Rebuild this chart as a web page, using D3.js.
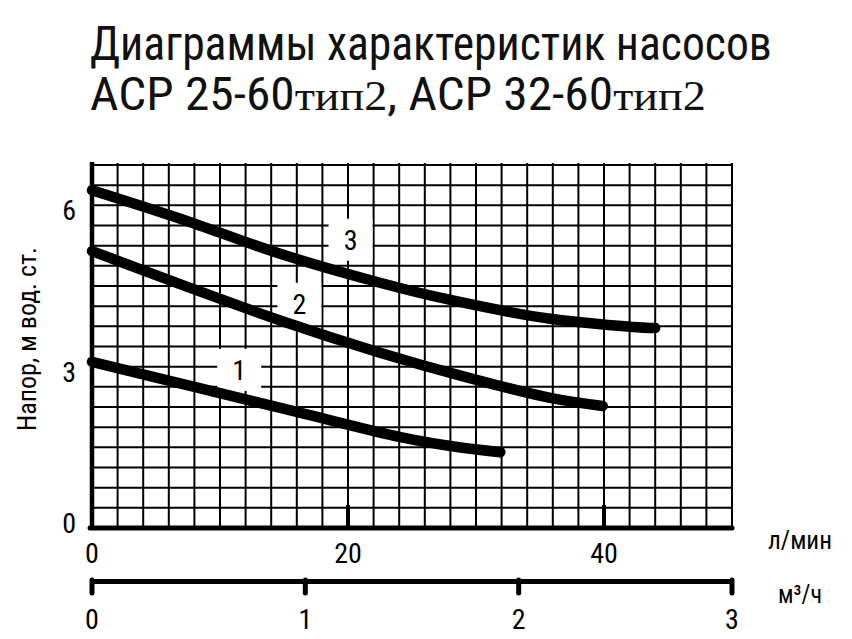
<!DOCTYPE html>
<html><head><meta charset="utf-8">
<script src="https://cdn.jsdelivr.net/npm/d3@7"></script>
<style>body{margin:0;background:#fff}svg{display:block}</style>
</head><body><svg id="c" width="852" height="639"></svg>
<script>
// ---- data ----
const flowTicks = [0, 20, 40];          // л/мин
const cubicTicks = [0, 1, 2, 3];        // м³/ч
const headTicks = [0, 3, 6];            // м вод. ст.
const curveNames = ["1", "2", "3"];
const curve1Flow = [0, 8.4, 16.3, 24.1, 28.4, 31.9];
const curve1Head = [3.09, 2.60, 2.14, 1.69, 1.51, 1.41];
const curve2Flow = [0, 7.5, 14.7, 22.5, 29.0, 35.8, 39.9];
const curve2Head = [5.15, 4.48, 3.86, 3.26, 2.82, 2.42, 2.27];
const curve3Flow = [0, 6.9, 14.7, 22.5, 28.0, 35.8, 43.6, 44.0];
const curve3Head = [6.28, 5.75, 5.10, 4.56, 4.24, 3.89, 3.72, 3.72];
const labelFlow = [11.5, 16.2, 20.2];
const labelHead = [2.94, 4.17, 5.36];
const titleLine1 = "Диаграммы характеристик насосов";
const titleParts = [["ACP 25-60", "sans"], ["тип2", "serif"], [", ACP 32-60", "sans"], ["тип2", "serif"]];
const yTitle = "Напор, м вод. ст.";
const flowUnit = "л/мин";
const cubicUnit = "м³/ч";

// ---- setup ----
const SANS = "'Liberation Sans Narrow','Arial Narrow','Roboto Condensed','DejaVu Sans Condensed','Liberation Sans',Arial,sans-serif";
const SERIF = "'Liberation Serif','Times New Roman',serif";
const svg = d3.select("#c");
const x = d3.scaleLinear().domain([0, 50]).range([92, 732]);
const xc = d3.scaleLinear().domain([0, 3]).range([92, 732]);
const y = d3.scaleLinear().domain([0, 6.75]).range([528, 165]);

function fit(sel, w) {
  const bw = sel.node().getBBox().width;
  const k = w / bw;
  const x0 = +sel.attr("x") || 0;
  sel.attr("transform", `translate(${x0},0) scale(${k},1) translate(${-x0},0)`);
}

// grid
const g = svg.append("g");
g.selectAll("line.v").data(d3.range(0, 50.01, 2)).join("line")
  .attr("x1", d => x(d)).attr("x2", d => x(d)).attr("y1", 163).attr("y2", y(0))
  .attr("stroke", "#000").attr("stroke-width", 2);
g.selectAll("line.h").data(d3.range(0.375, 6.76, 0.375)).join("line")
  .attr("x1", x(0)).attr("x2", x(50)).attr("y1", d => y(d)).attr("y2", d => y(d))
  .attr("stroke", "#000").attr("stroke-width", 2);

// label boxes
const labels = curveNames.map((n, i) => ({n, fx: labelFlow[i], hy: labelHead[i]}));
svg.selectAll("rect.lb").data(labels).join("rect")
  .attr("x", d => x(d.fx) - 22).attr("y", d => y(d.hy) - 21)
  .attr("width", 44).attr("height", 42).attr("fill", "#fff");
svg.selectAll("text.lb").data(labels).join("text")
  .attr("x", d => x(d.fx)).attr("y", d => y(d.hy) + 10)
  .attr("text-anchor", "middle").attr("font-family", SANS).attr("font-size", 28)
  .text(d => d.n);

// axes main
svg.append("line").attr("x1", x(0)).attr("x2", x(0)).attr("y1", 162).attr("y2", y(0))
  .attr("stroke", "#000").attr("stroke-width", 4.5);
svg.append("line").attr("x1", x(0) - 2).attr("x2", x(50)).attr("y1", y(0)).attr("y2", y(0))
  .attr("stroke", "#000").attr("stroke-width", 5).attr("stroke-linecap", "round");
svg.selectAll("line.ft").data(flowTicks.filter(d => d > 0)).join("line")
  .attr("x1", d => x(d)).attr("x2", d => x(d)).attr("y1", y(0) - 23).attr("y2", y(0))
  .attr("stroke", "#000").attr("stroke-width", 4);

// curves
const line = d3.line().x(d => x(d[0])).y(d => y(d[1])).curve(d3.curveCatmullRom.alpha(0.5));
const curves = [
  d3.zip(curve1Flow, curve1Head),
  d3.zip(curve2Flow, curve2Head),
  d3.zip(curve3Flow, curve3Head)
];
svg.selectAll("path.cv").data(curves).join("path")
  .attr("d", line).attr("fill", "none").attr("stroke", "#000")
  .attr("stroke-width", 10.5).attr("stroke-linecap", "round").attr("stroke-linejoin", "round");

// y tick labels
svg.selectAll("text.yt").data(headTicks).join("text")
  .attr("x", 76).attr("y", d => y(d) + (d === 0 ? 5 : 15))
  .attr("text-anchor", "end").attr("font-family", SANS).attr("font-size", 28)
  .text(d => d);

// flow tick labels
svg.selectAll("text.xt").data(flowTicks).join("text")
  .attr("x", d => x(d)).attr("y", 563)
  .attr("text-anchor", "middle").attr("font-family", SANS).attr("font-size", 28)
  .text(d => d);

// second axis (m³/h)
svg.append("line").attr("x1", xc(0)).attr("x2", xc(3)).attr("y1", 581.5).attr("y2", 581.5)
  .attr("stroke", "#000").attr("stroke-width", 5);
svg.selectAll("line.ct").data(cubicTicks).join("line")
  .attr("x1", d => xc(d)).attr("x2", d => xc(d)).attr("y1", 580).attr("y2", 593)
  .attr("stroke", "#000").attr("stroke-width", 5).attr("stroke-linecap", "round");
svg.selectAll("text.ct").data(cubicTicks).join("text")
  .attr("x", d => xc(d)).attr("y", 629)
  .attr("text-anchor", "middle").attr("font-family", SANS).attr("font-size", 28)
  .text(d => d);

// units
const u1 = svg.append("text").attr("x", 768).attr("y", 549).attr("font-family", SANS)
  .attr("font-size", 25).text(flowUnit);
fit(u1, 64);
const u2 = svg.append("text").attr("x", 778).attr("y", 603).attr("font-family", SANS)
  .attr("font-size", 25).text(cubicUnit);
fit(u2, 44);

// y title
const yg = svg.append("g").attr("transform", "translate(36,339) rotate(-90)");
const yt = yg.append("text").attr("x", 0).attr("y", 0).attr("text-anchor", "middle")
  .attr("font-family", SANS).attr("font-size", 25).text(yTitle);
{
  const bw = yt.node().getBBox().width;
  yt.attr("transform", `scale(${184 / bw},1)`);
}

// title
const t1 = svg.append("text").attr("x", 90).attr("y", 60).attr("font-family", SANS)
  .attr("font-size", 48).attr("fill", "#111").text(titleLine1);
fit(t1, 682);
const t2 = svg.append("text").attr("x", 90).attr("y", 110).attr("font-family", SANS)
  .attr("font-size", 46).attr("fill", "#111");
t2.selectAll("tspan").data(titleParts).join("tspan")
  .attr("font-family", d => d[1] === "serif" ? SERIF : SANS)
  .attr("font-size", d => d[1] === "serif" ? 43 : 46)
  .text(d => d[0]);
fit(t2, 616);
</script></body></html>
